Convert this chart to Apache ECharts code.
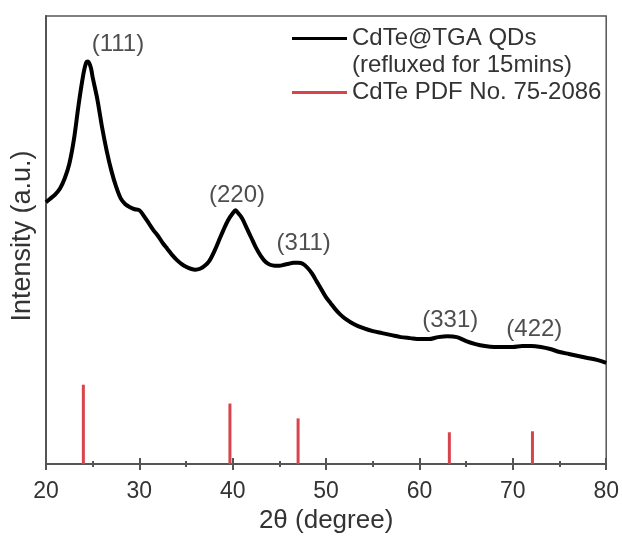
<!DOCTYPE html>
<html>
<head>
<meta charset="utf-8">
<script src="https://cdn.jsdelivr.net/npm/echarts@6/dist/echarts.min.js"></script>
<style>
  html, body { margin: 0; padding: 0; background: #fff; }
  #chart { width: 622px; height: 539px; }
</style>
</head>
<body>
<div id="chart"></div>
<script>
// XRD pattern of CdTe@TGA quantum dots (2θ in degrees, intensity in arbitrary units)
const twoTheta = [
  20.0, 20.5, 21.0, 21.5, 22.0, 22.5, 23.0, 23.5, 24.0, 24.3, 24.5, 24.8, 25.0, 25.5,
  26.0, 26.5, 27.0, 27.5, 28.0, 28.5, 29.0, 29.5, 30.0, 30.5, 31.0, 31.5, 32.0, 32.5,
  33.0, 33.5, 34.0, 34.5, 35.0, 35.5, 36.0, 36.5, 37.0, 37.5, 38.0, 38.5, 39.0, 39.5,
  40.0, 40.3, 40.5, 41.0, 41.5, 42.0, 42.5, 43.0, 43.5, 44.0, 44.5, 45.0, 45.5, 46.0,
  46.5, 47.0, 47.5, 48.0, 48.5, 49.0, 49.5, 50.0, 50.5, 51.0, 51.5, 52.0, 53.0, 54.0,
  55.0, 56.0, 57.0, 58.0, 59.0, 60.0, 61.0, 62.0, 63.0, 64.0, 65.0, 66.0, 67.0, 68.0,
  69.0, 70.0, 71.0, 72.0, 73.0, 74.0, 75.0, 76.0, 77.0, 78.0, 79.0, 80.0
];
const intensity = [
  264, 268, 272, 278, 288, 303, 328, 363, 393, 405, 406, 400, 390, 368,
  340, 316, 296, 280, 268, 262, 259, 257, 256, 250, 243, 236, 230, 223,
  217, 211, 206, 202, 199, 197, 196, 197, 200, 205, 214, 225, 236, 246,
  253, 256, 254, 248, 238, 228, 218, 210, 204, 201, 200, 200, 201, 202,
  203, 203, 202, 198, 192, 184, 176, 168, 162, 156, 151, 147, 141, 137,
  134, 132, 130, 128, 127, 126, 126, 128, 129, 128, 124, 121, 119, 118,
  118, 118, 119, 119, 118, 116, 113, 111, 109, 107, 105, 102
];

// Reference pattern lines (CdTe PDF No. 75-2086)
const refPositions = [24.0, 39.7, 47.0, 63.2, 72.1];
const refIntensity = [80, 61, 46, 32, 33];

// Miller indices annotating the peaks
const hklLabels = ['(111)', '(220)', '(311)', '(331)', '(422)'];
const hklPos = [27.7, 40.46, 47.6, 63.3, 72.3];
const hklHeight = [423, 271, 223, 145, 136];

const xTicks = [20, 30, 40, 50, 60, 70, 80];

const FONT = '"Liberation Sans", Arial, sans-serif';
const AXIS_COLOR = '#555';
const RED = '#d9434b';

const chart = echarts.init(document.getElementById('chart'));

const lineData = twoTheta.map((t, i) => [t, intensity[i]]);
const refData = refPositions.map((t, i) => [t, refIntensity[i]]);
const labelData = hklLabels.map((n, i) => ({ name: n, value: [hklPos[i], hklHeight[i]] }));

const baseX = {
  type: 'value',
  min: xTicks[0],
  max: xTicks[xTicks.length - 1],
  interval: 10,
  position: 'bottom',
  splitLine: { show: false }
};

chart.setOption({
  animation: false,
  backgroundColor: '#fff',
  grid: {
    left: 46, right: 13, top: 16, bottom: 71,
    show: true, borderColor: AXIS_COLOR, borderWidth: 1.5,
    containLabel: false
  },
  legend: {
    orient: 'vertical',
    left: 292,
    top: -2,
    padding: 0,
    itemGap: 0,
    itemWidth: 55,
    itemHeight: 3,
    textStyle: { fontFamily: FONT, fontSize: 24, color: '#333', lineHeight: 27 },
    data: [
      { name: 'CdTe@TGA QDs', icon: 'rect' },
      { name: 'CdTe PDF No. 75-2086', icon: 'rect' }
    ],
    // the blank first line keeps the legend line level with the series name
    formatter: function (name) {
      return name === 'CdTe@TGA QDs' ? ' \n' + name + '\n(refluxed for 15mins)' : name;
    }
  },
  xAxis: [
    Object.assign({}, baseX, {
      name: '2θ (degree)',
      nameLocation: 'middle',
      nameGap: 44,
      nameTextStyle: { fontFamily: FONT, fontSize: 26, color: '#333' },
      axisLine: { show: true, lineStyle: { color: AXIS_COLOR, width: 2 } },
      axisTick: { show: true, length: 6, lineStyle: { color: AXIS_COLOR, width: 2 } },
      minorTick: { show: true, splitNumber: 2, length: 3, lineStyle: { color: AXIS_COLOR, width: 2 } },
      axisLabel: { fontFamily: FONT, fontSize: 23, color: '#333', margin: 16 }
    }),
    Object.assign({}, baseX, {
      axisLine: { show: false },
      axisTick: { show: true, inside: true, length: 6, lineStyle: { color: AXIS_COLOR, width: 2 } },
      minorTick: { show: true, splitNumber: 2, length: 3, lineStyle: { color: AXIS_COLOR, width: 2 } },
      axisLabel: { show: false }
    })
  ],
  yAxis: {
    type: 'value',
    min: 0,
    max: 452,
    name: 'Intensity (a.u.)',
    nameLocation: 'middle',
    nameGap: 10,
    nameTextStyle: { fontFamily: FONT, fontSize: 27, color: '#333', padding: [0, 0, 0, 8] },
    axisLine: { show: true, lineStyle: { color: AXIS_COLOR, width: 2 } },
    axisTick: { show: false },
    axisLabel: { show: false },
    splitLine: { show: false }
  },
  series: [
    {
      name: 'CdTe@TGA QDs',
      type: 'line',
      data: lineData,
      showSymbol: false,
      symbol: 'none',
      smooth: 0.3,
      lineStyle: { color: '#000', width: 4 },
      itemStyle: { color: '#000' },
      z: 3
    },
    {
      name: 'CdTe PDF No. 75-2086',
      type: 'bar',
      data: refData,
      barWidth: 3,
      itemStyle: { color: RED },
      z: 2
    },
    {
      name: 'hkl',
      type: 'scatter',
      data: labelData,
      symbolSize: 0,
      silent: true,
      label: {
        show: true,
        position: 'inside',
        formatter: '{b}',
        fontFamily: FONT,
        fontSize: 24,
        color: '#222'
      },
      z: 4
    }
  ]
});
</script>
</body>
</html>
